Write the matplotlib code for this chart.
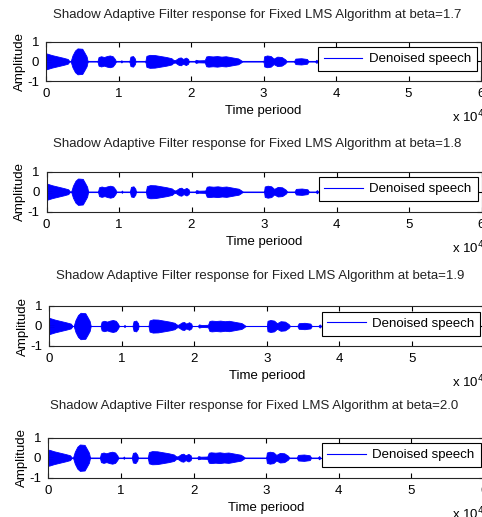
import matplotlib
matplotlib.use("Agg")
import matplotlib.pyplot as plt

plt.rcParams["font.family"] = ["Liberation Sans", "DejaVu Sans"]
plt.rcParams["axes.unicode_minus"] = False

W, H = 482, 517

# beta values of the four panels
betas = ["1.7", "1.8", "1.9", "2.0"]

# envelope of the denoised speech waveform (sample index, half amplitude)
env_t = [0, 100, 800, 1600, 2400, 3000, 3250, 3400, 3650, 4000, 4350, 5000, 5300, 5600, 5750,
         7100, 7250, 7600, 8000, 8400, 8800, 9200, 9500, 9650, 10300, 10400, 10500, 11500,
         11650, 12000, 12250, 12350, 13700, 13850, 14300, 15000, 15800, 16600, 17300, 17550,
         17800, 18300, 18600, 18900, 19300, 19600, 19700, 20500, 20650, 21000, 21900, 22100,
         22400, 23000, 23600, 24200, 24800, 25400, 26000, 26500, 26800, 27100, 30000, 30100,
         30500, 31000, 31400, 31900, 32500, 33000, 33200, 34200, 34400, 35200, 36000, 36200,
         37100, 37300, 37500]
env_a = [0.38, 0.40, 0.32, 0.25, 0.18, 0.12, 0.0, 0.0, 0.30, 0.55, 0.66, 0.64, 0.45, 0.25, 0.0,
         0.0, 0.22, 0.26, 0.22, 0.27, 0.30, 0.26, 0.12, 0.0, 0.0, 0.06, 0.0, 0.0,
         0.24, 0.27, 0.15, 0.0, 0.0, 0.28, 0.33, 0.32, 0.27, 0.22, 0.16, 0.08,
         0.06, 0.18, 0.20, 0.12, 0.19, 0.12, 0.0, 0.0, 0.08, 0.05, 0.06, 0.25,
         0.27, 0.25, 0.27, 0.24, 0.26, 0.22, 0.18, 0.15, 0.08, 0.0, 0.0, 0.26,
         0.30, 0.27, 0.14, 0.24, 0.22, 0.10, 0.0, 0.0, 0.14, 0.16, 0.12, 0.0,
         0.0, 0.08, 0.0]

xticks = [0, 10000, 20000, 30000, 40000, 50000, 60000]
xtick_labels = ["0", "1", "2", "3", "4", "5", "6"]
yticks = [-1, 0, 1]

# panel boxes in pixels: left, top, right, bottom
boxes = [(46, 41.7, 481, 81), (46.5, 171.7, 481.5, 211.7),
         (49, 306, 484.6, 346), (48.3, 437.7, 484, 477.7)]
legend_right = [477, 477.5, 480.5, 480.5]
title_pos = [(257, 15), (257, 144), (260, 276), (254, 406)]

fig = plt.figure(figsize=(W / 100, H / 100), dpi=100)

for beta, (l, t, r, b), lr, (tx, ty) in zip(betas, boxes, legend_right, title_pos):
    ax = fig.add_axes([l / W, 1 - b / H, (r - l) / W, (b - t) / H])
    neg = [-a for a in env_a]
    ax.fill_between(env_t, neg, env_a, color="blue", linewidth=0.6, edgecolor="blue")
    ax.plot(env_t, [0] * len(env_t), color="blue", linewidth=0.8, label="Denoised speech")
    ax.set_xlim(0, 60000)
    ax.set_ylim(-1, 1)
    ax.set_xticks(xticks)
    ax.set_xticklabels(xtick_labels)
    ax.set_yticks(yticks)
    ax.tick_params(direction="in", top=True, right=True, length=3.5, width=0.8,
                   labelsize=9.5)
    ax.tick_params(axis="x", pad=5)
    ax.tick_params(axis="y", pad=5)
    for s in ax.spines.values():
        s.set_linewidth(0.8)
        s.set_color("#262626")
    ax.set_ylabel("Amplitude", fontsize=9.5, labelpad=1)
    ax.set_xlabel("Time periood", fontsize=9.5, labelpad=3.5)
    w_px = r - l
    h_px = b - t
    leg = ax.legend(loc="upper right",
                    bbox_to_anchor=((lr - l) / w_px, (h_px - 5.6) / h_px),
                    borderaxespad=0, fontsize=9.5, handlelength=2.9, handletextpad=0.5,
                    borderpad=0.45, fancybox=False, framealpha=1, edgecolor="black")
    leg.get_frame().set_linewidth(0.8)
    fig.text(tx / W, 1 - ty / H,
             f"Shadow Adaptive Filter response for Fixed LMS Algorithm at beta={beta}",
             ha="center", va="center", fontsize=9.5, color="#222222")
    fig.text(452 / W, 1 - (b + 36) / H, r"x 10$^{4}$", ha="left", va="center", fontsize=9.5)

fig.savefig("out.png", dpi=100)
